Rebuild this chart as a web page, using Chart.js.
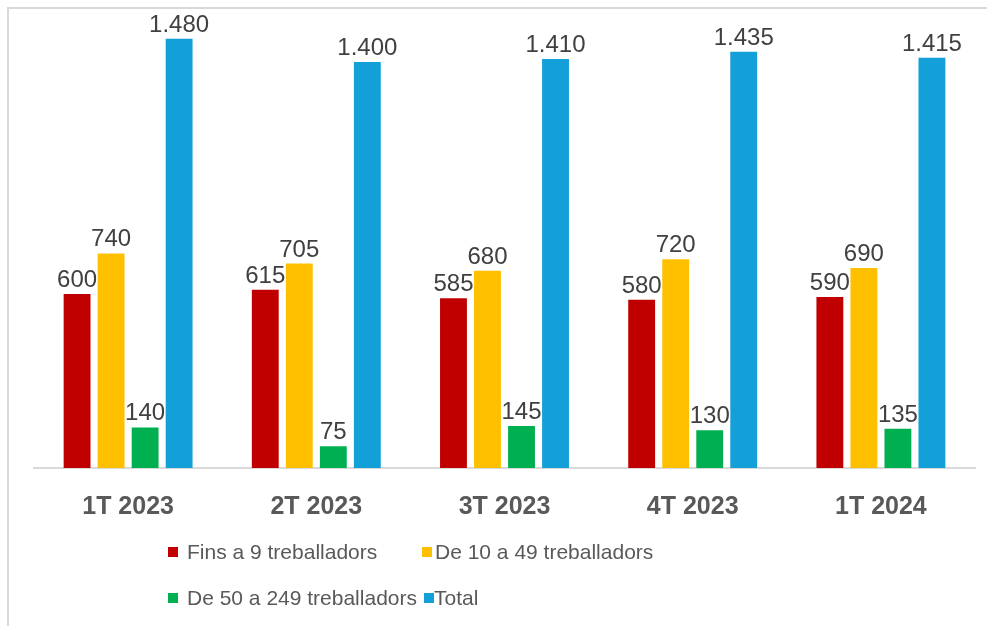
<!DOCTYPE html>
<html>
<head>
<meta charset="utf-8">
<script src="https://cdn.jsdelivr.net/npm/chart.js@4"></script>
<style>
  html, body { margin: 0; padding: 0; background: #fff; }
  #wrap { position: relative; width: 987px; height: 626px; overflow: hidden; }
  #frame { position: absolute; left: 7px; top: 7px; right: -5px; bottom: -5px; border-left: 2px solid #d9d9d9; border-top: 2px solid #d9d9d9; }
  canvas { position: absolute; left: 0; top: 0; }
  .lg { position: absolute; font-family: "Liberation Sans", Arial, sans-serif; font-size: 21px; color: #595959; white-space: nowrap; line-height: 24px; }
  .sq { position: absolute; width: 10px; height: 10px; }
</style>
</head>
<body>
<div id="wrap">
  <div id="frame"></div>
  <canvas id="c" width="987" height="626"></canvas>
  <div id="legend"></div>
</div>
<script>
const categories = ["1T 2023", "2T 2023", "3T 2023", "4T 2023", "1T 2024"];
const seriesNames = ["Fins a 9 treballadors", "De 10 a 49 treballadors", "De 50 a 249 treballadors", "Total"];
const fins9 = [600, 615, 585, 580, 590];
const de10a49 = [740, 705, 680, 720, 690];
const de50a249 = [140, 75, 145, 130, 135];
const total = [1480, 1400, 1410, 1435, 1415];
const colors = ["#C00000", "#FFC000", "#00B050", "#139FD8"];

function fmt(v) { return String(v).replace(/\B(?=(\d{3})+(?!\d))/g, "."); }

const labelPlugin = {
  id: "valueLabels",
  afterDatasetsDraw(chart) {
    const ctx = chart.ctx;
    ctx.save();
    ctx.font = "24px 'Liberation Sans', Arial, sans-serif";
    ctx.fillStyle = "#404040";
    ctx.textAlign = "center";
    ctx.textBaseline = "alphabetic";
    chart.data.datasets.forEach((ds, i) => {
      const meta = chart.getDatasetMeta(i);
      meta.data.forEach((el, j) => {
        ctx.fillText(fmt(ds.data[j]), el.x, el.y - 7);
      });
    });
    ctx.restore();
  }
};

const seriesData = [fins9, de10a49, de50a249, total];
new Chart(document.getElementById("c"), {
  type: "bar",
  data: {
    labels: categories,
    datasets: seriesData.map((d, i) => ({
      label: seriesNames[i],
      data: d,
      backgroundColor: colors[i],
      borderWidth: 0,
      categoryPercentage: 0.723,
      barPercentage: 0.79
    }))
  },
  options: {
    responsive: false,
    animation: false,
    events: [],
    layout: { padding: { left: 34, right: 12, top: 4, bottom: 98 } },
    plugins: { legend: { display: false }, tooltip: { enabled: false } },
    scales: {
      x: {
        grid: { display: false },
        border: { display: true, color: "#d9d9d9", width: 2 },
        ticks: {
          padding: 16,
          color: "#595959",
          font: { family: "'Liberation Sans', Arial, sans-serif", size: 25, weight: "bold" }
        },
        afterFit(scale) { scale.height = 60; }
      },
      y: {
        display: false,
        min: 0,
        max: 1600
      }
    }
  },
  plugins: [labelPlugin]
});

// HTML legend laid out as Excel's two-column grid
const legendPos = [
  { sx: 168, tx: 187, y: 552 },
  { sx: 422, tx: 435, y: 552 },
  { sx: 168, tx: 187, y: 598 },
  { sx: 424, tx: 434, y: 598 }
];
const lg = document.getElementById("legend");
seriesNames.forEach((n, i) => {
  const p = legendPos[i];
  const sq = document.createElement("div");
  sq.className = "sq";
  sq.style.left = p.sx + "px";
  sq.style.top = (p.y - 5) + "px";
  sq.style.background = colors[i];
  lg.appendChild(sq);
  const t = document.createElement("div");
  t.className = "lg";
  t.style.left = p.tx + "px";
  t.style.top = (p.y - 12) + "px";
  t.textContent = n;
  lg.appendChild(t);
});
</script>
</body>
</html>
